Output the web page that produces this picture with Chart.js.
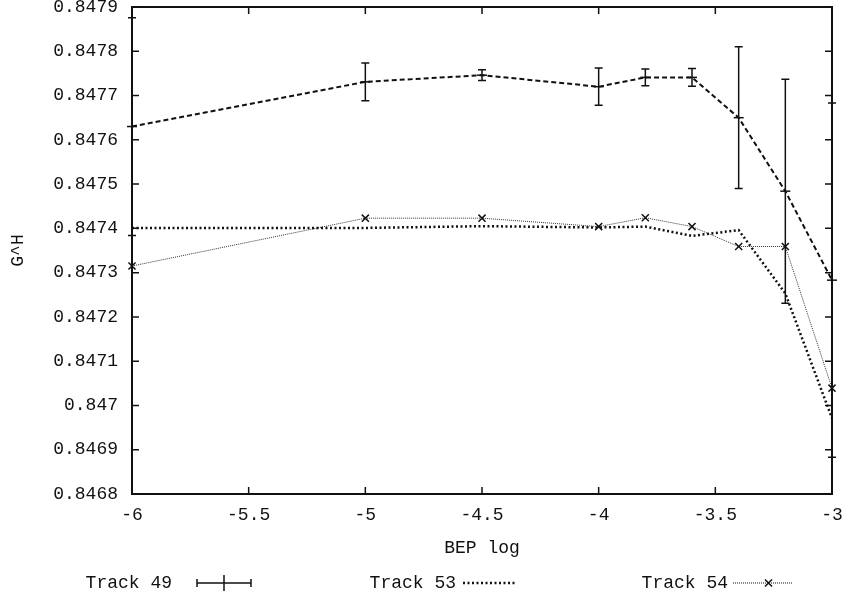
<!DOCTYPE html>
<html>
<head>
<meta charset="utf-8">
<script src="https://cdn.jsdelivr.net/npm/chart.js@4/dist/chart.umd.min.js"></script>
<style>
  html, body { margin: 0; padding: 0; background: #fff; }
  #wrap { width: 843px; height: 596px; }
</style>
</head>
<body>
<div id="wrap"><canvas id="chart" width="843" height="596"></canvas></div>
<script>
// datos
const bepLog = [-6, -5, -4.5, -4, -3.8, -3.6, -3.4, -3.2, -3];
const track49 = [0.847630, 0.847731, 0.847746, 0.847720, 0.847741, 0.847741, 0.847650, 0.847484, 0.847283];
const track49Err = [0.000246, 0.0000425, 0.000012, 0.000042, 0.000019, 0.000020, 0.000160, 0.000253, 0.000400];
const track53 = [0.847401, 0.847401, 0.847405, 0.847402, 0.847404, 0.847383, 0.847396, 0.847253, 0.846971];
const track54 = [0.847315, 0.847423, 0.847423, 0.847404, 0.847424, 0.847404, 0.847359, 0.847359, 0.847039];
const xTicks = [-6, -5.5, -5, -4.5, -4, -3.5, -3];
const yTicks = [0.8468, 0.8469, 0.8470, 0.8471, 0.8472, 0.8473, 0.8474, 0.8475, 0.8476, 0.8477, 0.8478, 0.8479];
const seriesNames = ['Track 49', 'Track 53', 'Track 54'];

const FONT = '"Liberation Mono", "DejaVu Sans Mono", monospace';
const INK = '#111';

function toPoints(values) {
    return bepLog.map((x, i) => ({ x: x, y: values[i] }));
}

// barras de error, marco y marcas hacia dentro, leyenda
const gnuplotLook = {
    id: 'gnuplotLook',
    afterDatasetsDraw(chart) {
        const ctx = chart.ctx;
        const xs = chart.scales.x;
        const ys = chart.scales.y;
        ctx.save();
        ctx.strokeStyle = INK;
        ctx.lineWidth = 1.5;
        bepLog.forEach((x, i) => {
            const px = xs.getPixelForValue(x);
            const top = ys.getPixelForValue(track49[i] + track49Err[i]);
            const bot = ys.getPixelForValue(track49[i] - track49Err[i]);
            ctx.beginPath();
            ctx.moveTo(px, top); ctx.lineTo(px, bot);
            ctx.moveTo(px - 4, top); ctx.lineTo(px + 4, top);
            ctx.moveTo(px - 4, bot); ctx.lineTo(px + 4, bot);
            ctx.stroke();
        });
        ctx.restore();
    },
    afterDraw(chart) {
        const ctx = chart.ctx;
        const a = chart.chartArea;
        const xs = chart.scales.x;
        const ys = chart.scales.y;
        ctx.save();
        ctx.strokeStyle = INK;
        ctx.lineWidth = 2;
        ctx.strokeRect(a.left, a.top, a.right - a.left, a.bottom - a.top);
        ctx.lineWidth = 1.5;
        ctx.beginPath();
        xs.ticks.forEach((t, i) => {
            const px = xs.getPixelForTick(i);
            ctx.moveTo(px, a.bottom); ctx.lineTo(px, a.bottom - 7);
            ctx.moveTo(px, a.top); ctx.lineTo(px, a.top + 7);
        });
        ys.ticks.forEach((t, i) => {
            const py = ys.getPixelForTick(i);
            ctx.moveTo(a.left, py); ctx.lineTo(a.left + 7, py);
            ctx.moveTo(a.right, py); ctx.lineTo(a.right - 7, py);
        });
        ctx.stroke();

        // leyenda abajo
        const ly = 583;
        ctx.font = '18px ' + FONT;
        ctx.fillStyle = INK;
        ctx.textAlign = 'right';
        ctx.textBaseline = 'middle';
        ctx.fillText(seriesNames[0], 172, ly);
        ctx.fillText(seriesNames[1], 456, ly);
        ctx.fillText(seriesNames[2], 728, ly);

        ctx.lineWidth = 1.5;
        ctx.setLineDash([]);
        ctx.beginPath();
        ctx.moveTo(197, ly); ctx.lineTo(251, ly);
        ctx.moveTo(197, ly - 4); ctx.lineTo(197, ly + 4);
        ctx.moveTo(251, ly - 4); ctx.lineTo(251, ly + 4);
        ctx.moveTo(224, ly - 8); ctx.lineTo(224, ly + 8);
        ctx.stroke();

        ctx.lineWidth = 2.5;
        ctx.setLineDash([2, 2.5]);
        ctx.beginPath();
        ctx.moveTo(463, ly); ctx.lineTo(516, ly);
        ctx.stroke();

        ctx.lineWidth = 1;
        ctx.setLineDash([1, 1]);
        ctx.beginPath();
        ctx.moveTo(733, ly); ctx.lineTo(793, ly);
        ctx.stroke();
        ctx.setLineDash([]);
        ctx.lineWidth = 1.5;
        ctx.beginPath();
        ctx.moveTo(765, ly - 3.5); ctx.lineTo(772, ly + 3.5);
        ctx.moveTo(765, ly + 3.5); ctx.lineTo(772, ly - 3.5);
        ctx.stroke();
        ctx.restore();
    }
};

const ctx = document.getElementById('chart').getContext('2d');
new Chart(ctx, {
    type: 'line',
    data: {
        datasets: [{
            label: seriesNames[0],
            data: toPoints(track49),
            borderColor: INK,
            borderWidth: 2,
            borderDash: [5, 3],
            pointStyle: 'line',
            pointRadius: 5,
            pointBorderWidth: 1.5,
            pointBorderColor: INK,
            clip: false,
            tension: 0
        }, {
            label: seriesNames[1],
            data: toPoints(track53),
            borderColor: INK,
            borderWidth: 2.5,
            borderDash: [2, 2.5],
            pointRadius: 0,
            clip: false,
            tension: 0
        }, {
            label: seriesNames[2],
            data: toPoints(track54),
            borderColor: '#333',
            borderWidth: 1,
            borderDash: [1, 1],
            pointStyle: 'crossRot',
            pointRadius: 5,
            pointBorderWidth: 1.5,
            pointBorderColor: INK,
            clip: false,
            tension: 0
        }]
    },
    options: {
        responsive: false,
        animation: false,
        layout: { padding: { top: 7, right: 11, left: 0, bottom: 0 } },
        plugins: {
            legend: { display: false },
            tooltip: { enabled: false }
        },
        scales: {
            x: {
                type: 'linear',
                min: -6,
                max: -3,
                afterBuildTicks: s => { s.ticks = xTicks.map(v => ({ value: v })); },
                afterFit: s => { s.height = 102; s.paddingLeft = 0; s.paddingRight = 0; },
                grid: { display: false, drawTicks: false },
                border: { display: false },
                ticks: {
                    color: INK,
                    padding: 10,
                    font: { family: FONT, size: 18 },
                    callback: v => String(Number(v.toFixed(1)))
                },
                title: {
                    display: true,
                    text: 'BEP log',
                    color: INK,
                    font: { family: FONT, size: 18 },
                    padding: { top: 0, bottom: 37 }
                }
            },
            y: {
                type: 'linear',
                min: 0.8468,
                max: 0.8479,
                afterBuildTicks: s => { s.ticks = yTicks.map(v => ({ value: v })); },
                afterFit: s => { s.width = 132; s.paddingTop = 0; s.paddingBottom = 0; },
                grid: { display: false, drawTicks: false },
                border: { display: false },
                ticks: {
                    color: INK,
                    padding: 14,
                    font: { family: FONT, size: 18 },
                    callback: v => String(Number(v.toFixed(4)))
                },
                title: {
                    display: true,
                    text: 'G^H',
                    color: INK,
                    font: { family: FONT, size: 18 },
                    padding: { top: 7, bottom: 0 }
                }
            }
        }
    },
    plugins: [gnuplotLook]
});
</script>
</body>
</html>
